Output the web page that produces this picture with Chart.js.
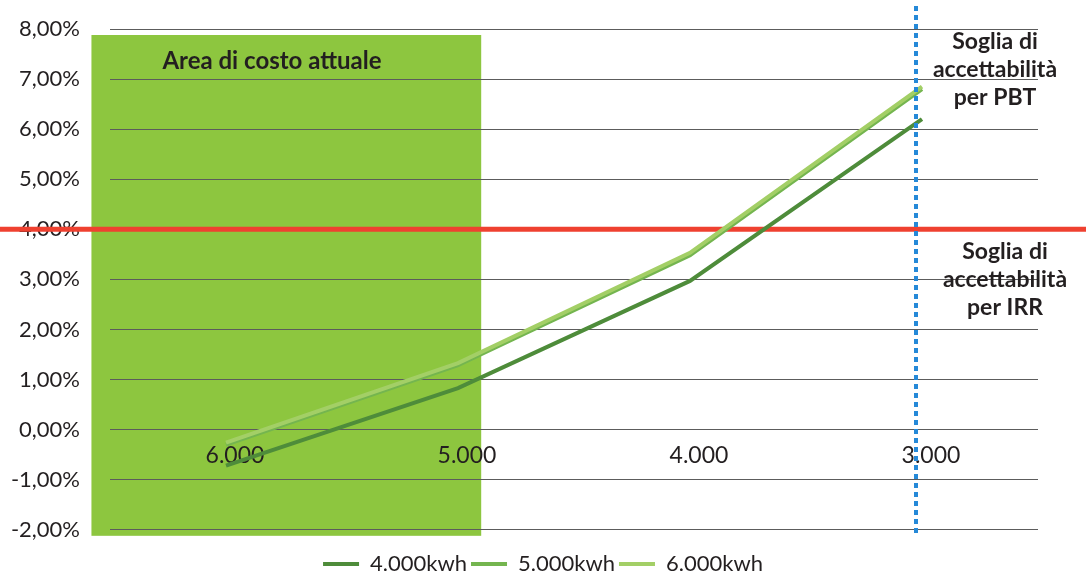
<!DOCTYPE html>
<html>
<head>
<meta charset="utf-8">
<script src="https://cdn.jsdelivr.net/npm/chart.js@4/dist/chart.umd.min.js"></script>
<style>
  html, body { margin: 0; padding: 0; background: #fff; }
  #wrap { width: 1086px; height: 578px; }
</style>
</head>
<body>
<div id="wrap"><canvas id="c" width="1086" height="578"></canvas></div>
<script>
// Costo impianto (categorie) e rendimento IRR (%) per produzione annua
const categories = ['6.000', '5.000', '4.000', '3.000'];
const seriesNames = ['4.000kwh', '5.000kwh', '6.000kwh'];
const irr4000 = [-0.72, 0.83, 2.97, 6.2];
const irr5000 = [-0.3, 1.29, 3.48, 6.8];
const irr6000 = [-0.26, 1.33, 3.53, 6.85];
const seriesColors = ['#4e8c3a', '#74b54f', '#a3cf66'];

// Soglie di accettabilità
const irrThreshold = 4;          // % IRR
const pbtCostIndex = 2.974;      // posizione sull'asse dei costi
// Area di costo attuale (in unità di asse)
const currentArea = { fromIndex: -0.58, toIndex: 1.1, top: 7.88, bottom: -2.12 };

const fontFamily = 'Lato, "Open Sans", sans-serif';
const textColor = '#231f20';

const overlays = {
  id: 'overlays',
  beforeDraw(chart) {
    const { ctx, scales: { x, y } } = chart;
    const x0 = x.getPixelForValue(currentArea.fromIndex);
    const x1 = x.getPixelForValue(currentArea.toIndex);
    const y0 = y.getPixelForValue(currentArea.top);
    const y1 = y.getPixelForValue(currentArea.bottom);
    ctx.save();
    ctx.fillStyle = '#8dc63f';
    ctx.fillRect(x0, y0, x1 - x0, y1 - y0);
    ctx.restore();
  },
  beforeDatasetsDraw(chart) {
    const { ctx, scales: { y } } = chart;
    const yy = y.getPixelForValue(irrThreshold);
    ctx.save();
    ctx.strokeStyle = '#ef4130';
    ctx.lineWidth = 5;
    ctx.beginPath();
    ctx.moveTo(0, yy);
    ctx.lineTo(chart.width, yy);
    ctx.stroke();
    ctx.restore();
  },
  afterDatasetsDraw(chart) {
    const { ctx, scales: { x, y } } = chart;
    const xx = Math.round(x.getPixelForValue(pbtCostIndex));
    ctx.save();
    ctx.strokeStyle = '#2589d8';
    ctx.lineWidth = 4;
    ctx.setLineDash([5, 4]);
    ctx.beginPath();
    ctx.moveTo(xx, 6);
    ctx.lineTo(xx, y.getPixelForValue(currentArea.bottom));
    ctx.stroke();
    ctx.setLineDash([]);

    ctx.fillStyle = textColor;
    ctx.textAlign = 'center';
    ctx.textBaseline = 'middle';
    ctx.font = 'bold 24px ' + fontFamily;
    ctx.fillText('Area di costo attuale', 272, 61);

    ctx.font = 'bold 23px ' + fontFamily;
    const pbt = ['Soglia di', 'accettabilità', 'per PBT'];
    pbt.forEach((t, i) => ctx.fillText(t, 995, 42 + i * 28));
    const irr = ['Soglia di', 'accettabilità', 'per IRR'];
    irr.forEach((t, i) => ctx.fillText(t, 1005, 252 + i * 28));
    ctx.restore();
  }
};

const seriesData = [irr4000, irr5000, irr6000];

new Chart(document.getElementById('c'), {
  type: 'line',
  data: {
    labels: categories,
    datasets: seriesNames.map((name, i) => ({
      label: name,
      data: seriesData[i],
      borderColor: seriesColors[i],
      backgroundColor: seriesColors[i],
      borderWidth: 4,
      pointRadius: 0,
      tension: 0,
      order: 3 - i
    }))
  },
  options: {
    responsive: false,
    animation: false,
    layout: { padding: { top: 29, right: 0, left: 0, bottom: -7 } },
    scales: {
      x: {
        offset: true,
        position: { y: 0 },
        grid: { display: false, drawTicks: false, offset: true },
        border: { display: false },
        ticks: {
          color: textColor,
          font: { family: fontFamily, size: 23 },
          padding: 12,
          labelOffset: 9
        }
      },
      y: {
        min: -2,
        max: 8,
        afterFit(scale) { scale.width = 110; },
        grid: { color: '#5c5c5c', lineWidth: 1, drawTicks: true, tickLength: 30, tickColor: 'rgba(0,0,0,0)' },
        border: { display: false },
        ticks: {
          stepSize: 1,
          padding: 0,
          color: textColor,
          font: { family: fontFamily, size: 22 },
          callback: v => v.toFixed(2).replace('.', ',') + '%'
        }
      },
      // margine destro riservato alle etichette delle soglie
      yRight: {
        position: 'right',
        afterFit(scale) { scale.width = 48; },
        grid: { display: false, drawTicks: false },
        border: { display: false },
        ticks: { display: false, padding: 0 }
      }
    },
    plugins: {
      legend: {
        position: 'bottom',
        title: { display: true, text: ' ', font: { size: 1 }, padding: { top: 0, bottom: 18 } },
        labels: {
          usePointStyle: true,
          pointStyle: 'line',
          pointStyleWidth: 36,
          color: textColor,
          padding: 4,
          font: { family: fontFamily, size: 22 },
          sort: (a, b) => a.datasetIndex - b.datasetIndex
        }
      },
      tooltip: { enabled: false }
    }
  },
  plugins: [overlays]
});
</script>
</body>
</html>
